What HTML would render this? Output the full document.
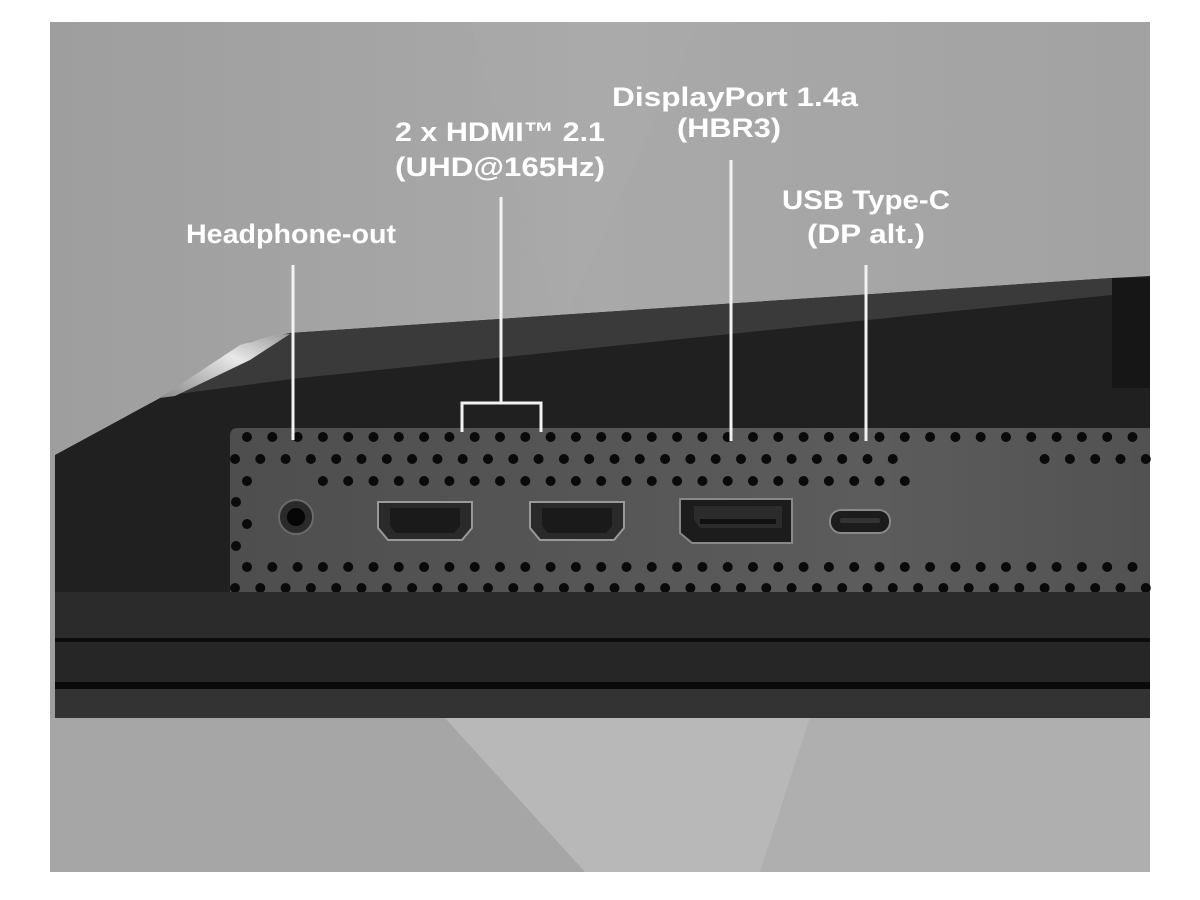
<!DOCTYPE html>
<html><head><meta charset="utf-8"><style>
html,body{margin:0;padding:0;background:#fff;width:1200px;height:900px;overflow:hidden}
svg{display:block}
text{font-family:"Liberation Sans",sans-serif;font-weight:bold;fill:#fff;font-size:27px}
</style></head><body>
<svg id="s" width="1200" height="900" viewBox="0 0 1200 900" xmlns="http://www.w3.org/2000/svg">
<defs>
<linearGradient id="bg" x1="0" y1="0" x2="1" y2="0">
<stop offset="0" stop-color="#9e9e9e"/><stop offset="0.5" stop-color="#a9a9a9"/><stop offset="1" stop-color="#a2a2a2"/></linearGradient>
<linearGradient id="panel" x1="0" y1="0" x2="1" y2="0">
<stop offset="0" stop-color="#4e4e4e"/><stop offset="0.7" stop-color="#5c5c5c"/><stop offset="1" stop-color="#525252"/></linearGradient>
<linearGradient id="hl" x1="0" y1="1" x2="1" y2="0">
<stop offset="0" stop-color="#8a8a8a"/><stop offset="0.6" stop-color="#e8e8e8"/><stop offset="1" stop-color="#9a9a9a"/></linearGradient>
</defs>
<rect x="50" y="22" width="1100" height="850" fill="url(#bg)"/>
<polygon points="470,22 700,22 560,330" fill="#adadad" opacity="0.35"/>
<rect x="50" y="718" width="1100" height="154" fill="#a6a6a6"/>
<polygon points="445,718 810,718 760,872 585,872" fill="#b8b8b8"/>
<polygon points="810,718 1150,718 1150,872 760,872" fill="#afafaf"/>
<polygon points="55,455 160,398 250,342 290,333 1112,278 1150,276 1150,600 55,600" fill="#202020"/>
<polygon points="160,398 250,342 290,333 1112,278 1112,295 300,378 170,395" fill="#3a3a3a"/>
<polygon points="160,398 240,345 275,335 290,334 250,360 175,396" fill="url(#hl)"/>
<rect x="1112" y="278" width="38" height="110" fill="#161616"/>
<path d="M238,428 H1150 V592 H230 V436 Q230,428 238,428 Z" fill="url(#panel)"/>
<g id="dots" fill="#0a0a0a"></g>
<circle cx="296" cy="517" r="17" fill="#2a2a2a" stroke="#6a6a6a" stroke-width="2"/>
<circle cx="296" cy="517" r="9" fill="#050505"/>
<path d="M378,502 H472 V528 L462,540 H388 L378,528 Z" fill="#2a2a2a" stroke="#999" stroke-width="2"/>
<path d="M390,508 H460 V526 L454,533 H396 L390,526 Z" fill="#1a1a1a"/>
<path d="M530,502 H624 V528 L614,540 H540 L530,528 Z" fill="#2a2a2a" stroke="#999" stroke-width="2"/>
<path d="M542,508 H612 V526 L606,533 H548 L542,526 Z" fill="#1a1a1a"/>
<path d="M680,499 H792 V543 H692 L680,533 Z" fill="#1c1c1c" stroke="#888" stroke-width="2"/>
<path d="M694,506 H782 V528 H700 L694,520 Z" fill="#2c2c2c"/>
<rect x="700" y="519" width="76" height="5" fill="#111"/>
<rect x="830" y="510" width="60" height="23" rx="11" fill="#1c1c1c" stroke="#888" stroke-width="2"/>
<rect x="840" y="518" width="40" height="5" rx="2" fill="#333"/>
<rect x="55" y="592" width="1095" height="48" fill="#2b2b2b"/>
<rect x="55" y="638" width="1095" height="4" fill="#0c0c0c"/>
<rect x="55" y="642" width="1095" height="41" fill="#262626"/>
<rect x="55" y="682" width="1095" height="7" fill="#0a0a0a"/>
<rect x="55" y="689" width="1095" height="29" fill="#333"/>
<g stroke="#f2f2f2" stroke-width="3" fill="none">
<line x1="293" y1="265" x2="293" y2="440"/>
<line x1="501" y1="197" x2="501" y2="403"/>
<polyline points="462,432 462,403 541,403 541,432"/>
<line x1="731" y1="160" x2="731" y2="441"/>
<line x1="866" y1="265" x2="866" y2="441"/>
</g>
<text x="291" y="243" text-anchor="middle" textLength="210" lengthAdjust="spacingAndGlyphs">Headphone-out</text>
<text x="500" y="141" text-anchor="middle" textLength="210" lengthAdjust="spacingAndGlyphs">2 x HDMI™ 2.1</text>
<text x="500" y="176" text-anchor="middle" textLength="210" lengthAdjust="spacingAndGlyphs">(UHD@165Hz)</text>
<text x="735" y="106" text-anchor="middle" textLength="246" lengthAdjust="spacingAndGlyphs">DisplayPort 1.4a</text>
<text x="729" y="137" text-anchor="middle" textLength="104" lengthAdjust="spacingAndGlyphs">(HBR3)</text>
<text x="866" y="209" text-anchor="middle" textLength="168" lengthAdjust="spacingAndGlyphs">USB Type-C</text>
<text x="866" y="243" text-anchor="middle" textLength="118" lengthAdjust="spacingAndGlyphs">(DP alt.)</text>
</svg>
<script>
var g=document.getElementById('dots'),h='';
function d(x,y){h+='<circle cx="'+x.toFixed(1)+'" cy="'+y+'" r="5"/>';}
var sp=25.3;
for(var x=247;x<1150;x+=sp){d(x,437);d(x,567);}
for(var x=235;x<1150;x+=sp){ if(x<915||x>1030) d(x,459); d(x,588);}
for(var x=247;x<915;x+=sp){ if(x<260||x>300) d(x,481);}
d(236,502);d(247,524);d(236,546);
g.innerHTML=h;
</script>
</body></html>
